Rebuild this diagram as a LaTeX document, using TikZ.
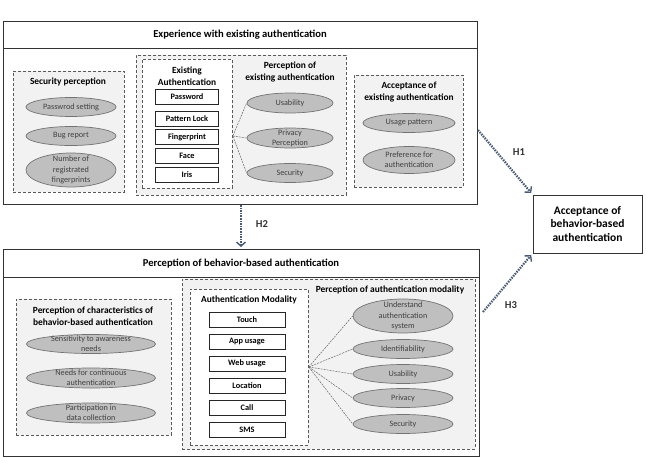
\documentclass[tikz,border=0pt]{standalone}
\usepackage{fontspec}
\setmainfont{Carlito}
\usepackage{tikz}
\usetikzlibrary{arrows.meta}
\usetikzlibrary{shapes.geometric}
\usetikzlibrary{positioning}
\definecolor{arrowblue}{HTML}{4A5A72}

\begin{document}
\begin{tikzpicture}[
	x=1pt, y=-1pt,
  > = {Straight Barb[length=4pt,width=9pt,line width=1.4pt]},
  bigbox/.style = {draw=black!80,line width=1pt,anchor=north west,inner sep=0},
  grpbox/.style = {draw=black!65,dash pattern=on 3pt off 2pt,line width=0.8pt,fill=black!5,anchor=north west,inner sep=0},
  modbox/.style = {grpbox,fill=white},
  headline/.style = {font=\fontsize{10.6}{12}\selectfont\bfseries},
  grptitle/.style = {font=\fontsize{9.4}{11.5}\selectfont\bfseries,align=center},
  item/.style = {draw=black!85,line width=0.9pt,minimum height=15pt,inner sep=0,font=\fontsize{8.3}{9}\selectfont\bfseries},
  factor/.style = {ellipse,draw=black!55,fill=black!25,line width=0.7pt,inner xsep=-2pt,inner ysep=0pt,text=black!75,align=center,font=\fontsize{8.2}{10.2}\selectfont},
  tight/.style = {inner ysep=-3pt},
  link/.style = {draw=black!60,dash pattern=on 2pt off 1pt,line width=0.5pt},
  hyp/.style = {->,draw=arrowblue,line width=2.2pt,dash pattern=on 1.5pt off 1.1pt,shorten >=2pt},
  hyplabel/.style = {font=\fontsize{10.6}{12}\selectfont\bfseries,text=black!80}
  ]
	\useasboundingbox (0,0) rectangle (646,458);

	% experience with existing authentication
	\node[bigbox,minimum width=474pt,minimum height=183pt] (exp) at (3,21) {};
	\draw[line width=1pt,draw=black!80] (exp.west |- 0,48) -- (exp.east |- 0,48);
	\node[headline] (exptitle) at (240,35) {Experience with existing authentication};

	\node[grpbox,minimum width=111pt,minimum height=121pt] (secgrp) at (13,71) {};
	\node[grptitle] (sectitle) at (68,82) {Security perception};
	\node[factor,minimum width=90pt,minimum height=19pt] (pwset) at (71,107) {Passwrod setting};
	\node[factor,minimum width=90pt,minimum height=19pt] (bugrep) at (71,136) {Bug report};
	\node[factor,minimum width=90pt,minimum height=34pt,tight] (numfp) at (71,170) {Number of\\registrated\\fingerprints};

	\node[grpbox,minimum width=210pt,minimum height=140pt] (exgrp) at (136,55) {};
	\node[modbox,minimum width=90pt,minimum height=129pt] (exauth) at (142,59) {};
	\node[grptitle] (exauthtitle) at (187,76) {Existing\\Authentication};
	\node[item,minimum width=63pt] (password) at (187,97) {Password};
	\node[item,minimum width=63pt] (pattern) at (187,118.5) {Pattern Lock};
	\node[item,minimum width=63pt] (finger) at (187,137) {Fingerprint};
	\node[item,minimum width=63pt] (face) at (187,156) {Face};
	\node[item,minimum width=63pt] (iris) at (187,175) {Iris};

	\node[grptitle] (perctitle) at (290,72) {Perception of\\existing authentication};
	\node[factor,minimum width=86pt,minimum height=20pt] (exusab) at (290,103) {Usability};
	\node[factor,minimum width=86pt,minimum height=20pt,tight] (expriv) at (290,138) {Privacy\\Perception};
	\node[factor,minimum width=86pt,minimum height=19pt] (exsec) at (290,173) {Security};
	\coordinate (exhub) at (exauth.east |- 0,136);
	\draw[link] (exhub) -- (exusab.west);
	\draw[link] (exhub) -- (expriv.west);
	\draw[link] (exhub) -- (exsec.west);

	\node[grpbox,minimum width=109pt,minimum height=112pt] (accgrp) at (354,75) {};
	\node[grptitle] (acctitle) at (409,92) {Acceptance of\\existing authentication};
	\node[factor,minimum width=92pt,minimum height=19pt] (usage) at (409,123) {Usage pattern};
	\node[factor,minimum width=92pt,minimum height=27pt,tight] (prefer) at (409,160) {Preference for\\authentication};

	% acceptance of behavior-based authentication
	\node[draw=black!80,line width=1pt,minimum width=109pt,minimum height=58pt,align=center,font=\fontsize{11.5}{13.5}\selectfont\bfseries] (accbeh) at (587.5,224) {Acceptance of\\behavior-based\\authentication};

	% perception of behavior-based authentication
	\node[bigbox,minimum width=476pt,minimum height=207pt] (beh) at (3,249) {};
	\draw[line width=1pt,draw=black!80] (beh.west |- 0,277) -- (beh.east |- 0,277);
	\node[headline] (behtitle) at (241,264) {Perception of behavior-based authentication};

	\node[grpbox,minimum width=155pt,minimum height=136pt] (chargrp) at (16,299) {};
	\node[grptitle] (chartitle) at (93,316) {Perception of characteristics of\\behavior-based authentication};
	\node[factor,minimum width=129pt,minimum height=19pt,tight] (sensit) at (91,344) {Sensitivity to awareness\\needs};
	\node[factor,minimum width=129pt,minimum height=20pt,tight] (contin) at (91,378) {Needs for continuous\\authentication};
	\node[factor,minimum width=129pt,minimum height=20pt,tight] (partic) at (91,413) {Participation in\\data collection};

	\node[grpbox,minimum width=293pt,minimum height=170pt] (modgrp) at (182,279) {};
	\node[grptitle] (modgrptitle) at (390,290) {Perception of authentication modality};
	\node[modbox,minimum width=118pt,minimum height=156pt] (authmod) at (190,289) {};
	\node[grptitle] (authmodtitle) at (249,300) {Authentication Modality};
	\node[item,minimum width=76pt] (touch) at (247,319.5) {Touch};
	\node[item,minimum width=76pt] (appuse) at (247,341.5) {App usage};
	\node[item,minimum width=76pt] (webuse) at (247,363.5) {Web usage};
	\node[item,minimum width=76pt] (location) at (247,385.5) {Location};
	\node[item,minimum width=76pt] (call) at (247,407.5) {Call};
	\node[item,minimum width=76pt] (sms) at (247,429.5) {SMS};

	\node[factor,minimum width=100pt,minimum height=34pt,tight] (underst) at (403,316) {Understand\\authentication\\system};
	\node[factor,minimum width=100pt,minimum height=19pt] (ident) at (403,349) {Identifiability};
	\node[factor,minimum width=100pt,minimum height=19pt] (usab) at (403,374) {Usability};
	\node[factor,minimum width=100pt,minimum height=19pt] (priv) at (403,398) {Privacy};
	\node[factor,minimum width=100pt,minimum height=19pt] (secur) at (403,424) {Security};
	\coordinate (modhub) at (authmod.east |- 0,367);
	\draw[link] (modhub) -- (underst.west);
	\draw[link] (modhub) -- (ident.west);
	\draw[link] (modhub) -- (usab.west);
	\draw[link] (modhub) -- (priv.west);
	\draw[link] (modhub) -- (secur.west);

	% hypotheses
	\coordinate (h1start) at (exp.east |- 0,130);
	\coordinate (h3start) at (483,312);
	\draw[hyp] (h1start) -- (accbeh.north west);
	\draw[hyp] (exp.south -| 241,0) -- (beh.north -| 241,0);
	\draw[hyp] (h3start) -- (accbeh.south west);
	\node[hyplabel] (h1) at (519,152) {H1};
	\node[hyplabel] (h2) at (262,224) {H2};
	\node[hyplabel] (h3) at (511,305) {H3};

\end{tikzpicture}
\end{document}
